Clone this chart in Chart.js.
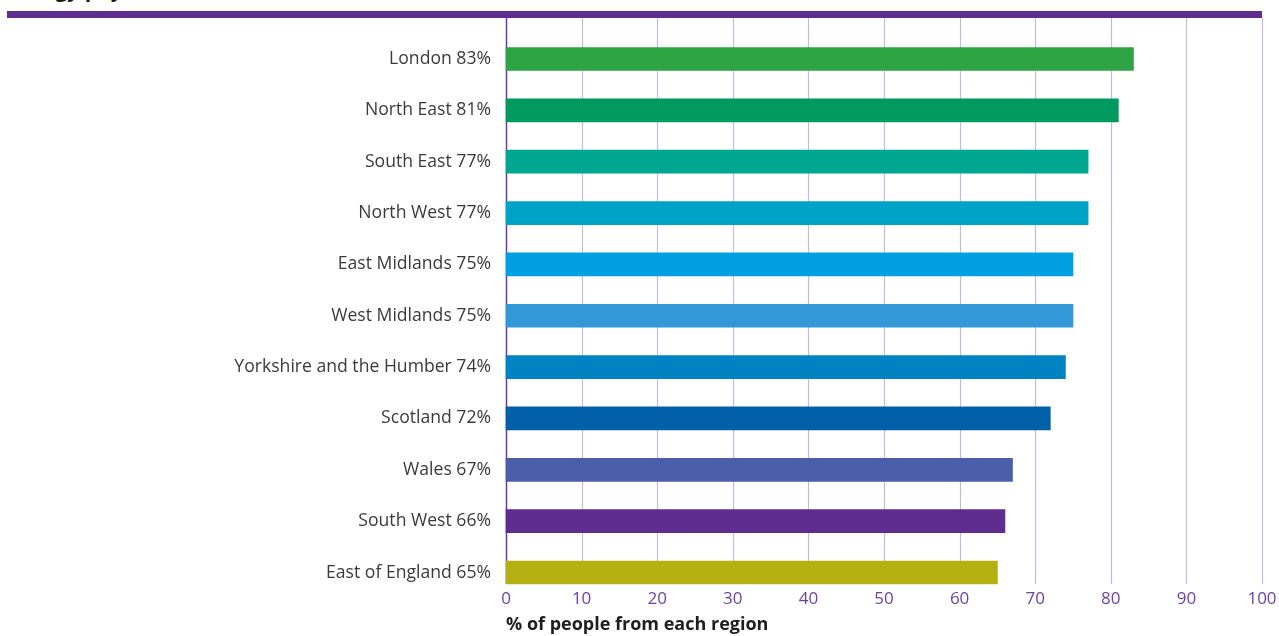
<!DOCTYPE html>
<html>
<head>
<meta charset="utf-8">
<script src="https://cdn.jsdelivr.net/npm/chart.js@4/dist/chart.umd.min.js"></script>
<style>
  html, body { margin: 0; padding: 0; background: #fff; overflow: hidden; }
  #wrap { position: relative; width: 1279px; height: 636px; }
  #heading {
    position: absolute; left: 8px; top: -22px; margin: 0;
    font: bold 21px "Open Sans", sans-serif; line-height: 22px; color: #1a1a1a; white-space: nowrap;
  }
  #band { position: absolute; left: 7px; top: 11px; width: 1255px; height: 7px; background: #5f2d91; }
  canvas { position: absolute; left: 0; top: 0; }
</style>
</head>
<body>
<div id="wrap">
  <h2 id="heading">Energy payments</h2>
  <div id="band"></div>
  <canvas id="regionChart" width="1279" height="636"></canvas>
</div>
<script>
const regions = ["London", "North East", "South East", "North West", "East Midlands", "West Midlands",
  "Yorkshire and the Humber", "Scotland", "Wales", "South West", "East of England"];
const shares = [83, 81, 77, 77, 75, 75, 74, 72, 67, 66, 65];
const barColors = ["#2ea344", "#009a61", "#00a790", "#00a3c8", "#00a0e2", "#3399d6",
  "#0082c3", "#0061a8", "#4c5eab", "#5f2d8f", "#b5b012"];
const xTicks = [0, 10, 20, 30, 40, 50, 60, 70, 80, 90, 100];

const gridLines = {
  id: "gridLines",
  beforeDatasetsDraw(chart) {
    const { ctx, scales: { x } } = chart;
    const meta = chart.getDatasetMeta(0);
    const last = meta.data[meta.data.length - 1];
    const bottom = last.y + last.height / 2;
    const top = 18;
    ctx.save();
    xTicks.forEach((v) => {
      const px = Math.round(x.getPixelForValue(v)) + 0.5;
      ctx.beginPath();
      ctx.strokeStyle = v === 0 ? "#6a3aa3" : "#c6b8df";
      ctx.lineWidth = v === 0 ? 1.5 : 1.2;
      ctx.moveTo(px, top);
      ctx.lineTo(px, bottom);
      ctx.stroke();
    });
    ctx.restore();
  },
};

new Chart(document.getElementById("regionChart"), {
  type: "bar",
  data: {
    labels: regions.map((r, i) => r + " " + shares[i] + "%"),
    datasets: [
      {
        data: shares,
        backgroundColor: barColors,
        barThickness: 23,
        clip: false,
      },
    ],
  },
  options: {
    indexAxis: "y",
    responsive: false,
    animation: false,
    layout: { padding: { top: 59, right: 17, bottom: 0, left: 0 } },
    plugins: { legend: { display: false }, tooltip: { enabled: false } },
    scales: {
      y: {
        offset: false,
        grid: { display: false, drawTicks: false },
        border: { display: false },
        ticks: { color: "#3a3a3a", font: { family: "Open Sans", size: 17.6 }, padding: 15 },
        afterFit(scale) { scale.width = 506; },
      },
      x: {
        min: 0,
        max: 100,
        afterBuildTicks(scale) { scale.ticks = xTicks.map((v) => ({ value: v })); },
        afterFit(scale) { scale.paddingLeft = 0; scale.paddingRight = 0; },
        grid: { display: false, drawTicks: false },
        border: { display: false },
        ticks: { color: "#6e3fa8", font: { family: "Open Sans", size: 17 }, padding: 16 },
        title: {
          display: true,
          text: "% of people from each region",
          align: "start",
          color: "#1e1e1e",
          font: { family: "Open Sans", size: 18, weight: "bold" },
          padding: { top: -10.5, bottom: 0 },
        },
      },
    },
  },
  plugins: [gridLines],
});
</script>
</body>
</html>
